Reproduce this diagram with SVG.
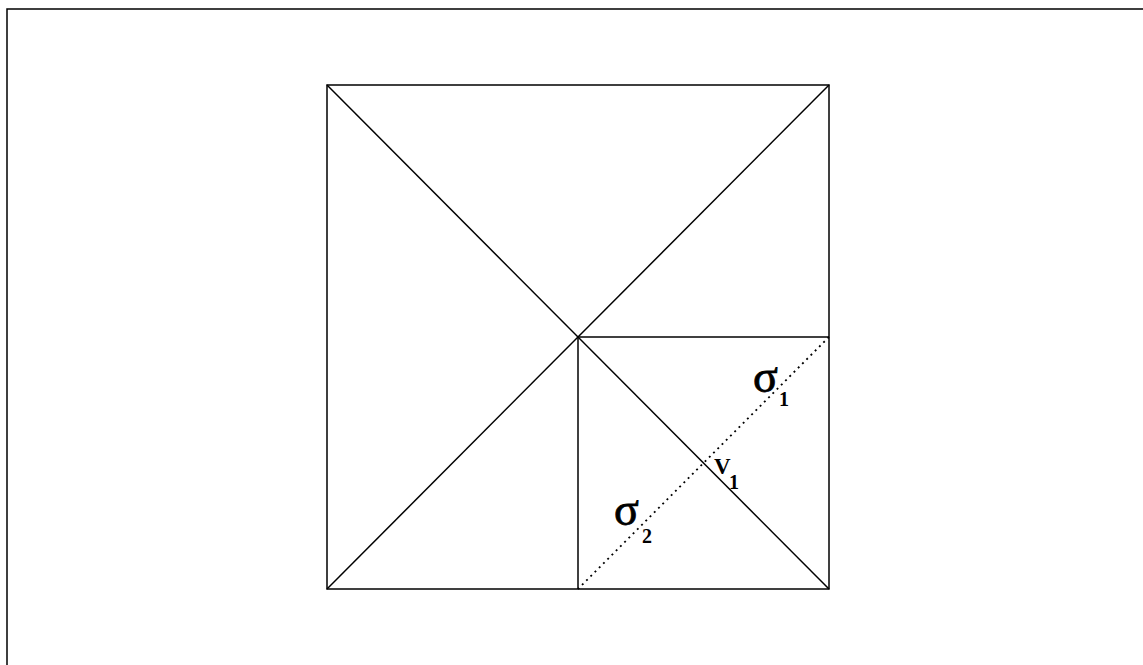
<svg xmlns="http://www.w3.org/2000/svg" width="1143" height="665" viewBox="0 0 1143 665">
<style>
.ln{stroke:#000;stroke-width:1.5;fill:none}
.dot{stroke:#000;stroke-width:1.8;stroke-dasharray:2 4;fill:none}
.t{font-family:"Liberation Serif",serif;fill:#000}
.sg{font-family:"Liberation Serif",serif;font-size:46px;fill:#000;stroke:#000;stroke-width:0.8}
.sub{font-family:"Liberation Serif",serif;font-weight:bold;font-size:20px;fill:#000}
</style>
<rect width="1143" height="665" fill="#fff"/>
<g id="frame"><path class="ln" d="M7,665 V9 H1143" stroke-width="2.5"/></g>
<g id="square"><rect class="ln" x="327" y="85" width="502" height="504"/></g>
<g id="connectors">
<line class="ln" x1="327" y1="85" x2="829" y2="589"/>
<line class="ln" x1="829" y1="85" x2="327" y2="589"/>
<line class="ln" x1="578" y1="337" x2="829" y2="337"/>
<line class="ln" x1="578" y1="337" x2="578" y2="589" stroke-width="2"/>
<line class="dot" x1="829" y1="337" x2="578" y2="589"/>
</g>
<g id="label-sigma1"><text class="sg" x="753" y="392">σ</text><text class="sub" x="779" y="406">1</text></g>
<g id="label-v1"><text class="t" x="714" y="474" font-size="23" font-weight="bold">V</text><text class="sub" x="729" y="489">1</text></g>
<g id="label-sigma2"><text class="sg" x="614" y="525">σ</text><text class="sub" x="642" y="543">2</text></g>
</svg>
